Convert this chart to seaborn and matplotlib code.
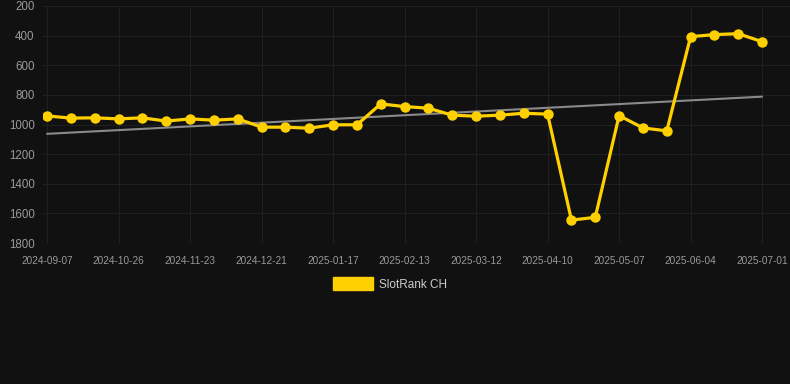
import matplotlib
matplotlib.use("Agg")
import matplotlib.pyplot as plt
from matplotlib.patches import Patch
import seaborn as sns
import pandas as pd

# rank per weekly snapshot (lower is better, axis inverted)
rank_values = [942, 957, 955, 962, 955, 977, 962, 971, 962, 1018,
               1018, 1025, 1002, 1002, 861, 879, 890, 937, 944, 937,
               924, 930, 1645, 1627, 940, 1023, 1043, 407, 393, 387, 441]
tick_labels = ["2024-09-07", "2024-10-26", "2024-11-23", "2024-12-21", "2025-01-17",
               "2025-02-13", "2025-03-12", "2025-04-10", "2025-05-07", "2025-06-04",
               "2025-07-01"]
trend_values = [1063, 812]  # trend line at first and last snapshot
y_ticks = [200, 400, 600, 800, 1000, 1200, 1400, 1600, 1800]
series_name = "SlotRank CH"

bg = "#111111"
yellow = "#FFD000"

sns.set_theme(style="dark")
plt.rcParams["font.family"] = ["Liberation Sans", "DejaVu Sans"]

df = pd.DataFrame({"idx": range(len(rank_values)), "rank": rank_values})

fig = plt.figure(figsize=(7.9, 3.84), dpi=100, facecolor=bg)
ax = fig.add_axes([43 / 790, 141 / 384, 747 / 790, 237 / 384], facecolor=bg)

# trend line
ax.plot([0, len(rank_values) - 1], trend_values, color="#8a8a8a", linewidth=1.5, zorder=2)

sns.lineplot(data=df, x="idx", y="rank", ax=ax, color=yellow, linewidth=2.3,
             marker="o", markersize=7.5, markeredgewidth=0, zorder=3)

ax.set_xlim(-0.17, 31.17)
ax.set_ylim(1800, 200)
ax.set_yticks(y_ticks)
ax.set_yticklabels([str(v) for v in y_ticks])
ax.set_xticks(list(range(0, len(rank_values), 3)))
ax.set_xticklabels(tick_labels)
ax.set_xlabel("")
ax.set_ylabel("")

ax.grid(True, color="#202020", linewidth=0.8)
for s in ax.spines.values():
    s.set_visible(False)
ax.tick_params(axis="y", colors="#9a9a9a", labelsize=8.3, length=0, pad=6)
ax.tick_params(axis="x", colors="#9a9a9a", labelsize=7.2, length=0, pad=9)

handle = Patch(facecolor=yellow, edgecolor=yellow)
fig.legend([handle], [series_name], loc="center", bbox_to_anchor=(390 / 790, 1 - 284 / 384),
           frameon=False, fontsize=8.5, labelcolor="#cccccc", handlelength=3.4, handleheight=1.2,
           handletextpad=0.5)

fig.savefig("out.png", dpi=100, facecolor=bg)
